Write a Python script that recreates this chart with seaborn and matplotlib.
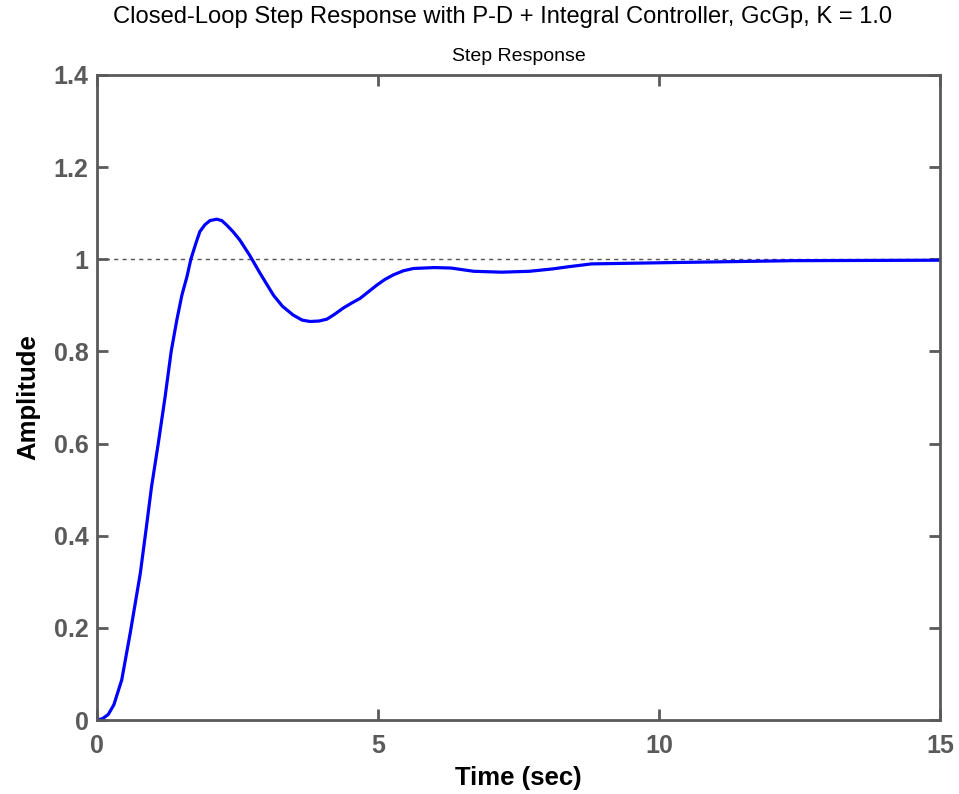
import matplotlib
matplotlib.use("Agg")
import matplotlib.pyplot as plt
import seaborn as sns
import pandas as pd
from matplotlib.ticker import FormatStrFormatter

time_sec = [0.0, 0.10, 0.20, 0.30, 0.44, 0.59, 0.77, 0.88, 0.97, 1.09, 1.21, 1.32, 1.42,
            1.51, 1.60, 1.67, 1.76, 1.83, 1.92, 2.01, 2.13, 2.22, 2.31, 2.42, 2.54,
            2.72, 2.90, 3.14, 3.30, 3.49, 3.65, 3.79, 3.95, 4.09, 4.22, 4.38, 4.53,
            4.68, 4.98, 5.12, 5.27, 5.45, 5.63, 6.00, 6.30, 6.70, 7.20, 7.70, 8.10,
            8.40, 8.80, 10.3, 12.4, 15.0]
amplitude = [0.0, 0.003, 0.012, 0.033, 0.087, 0.188, 0.318, 0.420, 0.506, 0.600, 0.700,
             0.800, 0.868, 0.922, 0.962, 1.000, 1.035, 1.060, 1.075, 1.084, 1.087,
             1.084, 1.074, 1.060, 1.042, 1.008, 0.970, 0.922, 0.898, 0.879, 0.868,
             0.865, 0.866, 0.870, 0.880, 0.894, 0.905, 0.915, 0.944, 0.956, 0.966,
             0.975, 0.980, 0.982, 0.981, 0.974, 0.972, 0.974, 0.979, 0.984, 0.990,
             0.993, 0.997, 0.998]
x_ticks = [0, 5, 10, 15]
y_ticks = [0, 0.2, 0.4, 0.6, 0.8, 1.0, 1.2, 1.4]
steady_state = 1.0

df = pd.DataFrame({"t": time_sec, "y": amplitude})

sns.set_style("white")
plt.rcParams["font.family"] = ["Liberation Sans", "DejaVu Sans"]

fig = plt.figure(figsize=(9.59, 7.94), dpi=100)
ax = fig.add_axes([97/959, 1-720/794, (940-97)/959, (720-75)/794])

sns.lineplot(data=df, x="t", y="y", ax=ax, color="#0000ff", linewidth=2.3)
ax.axhline(steady_state, color="#555555", linestyle=(0, (3, 3)), linewidth=1.0, zorder=1)

ax.set_xlim(0, 15)
ax.set_ylim(0, 1.4)
ax.set_xticks(x_ticks)
ax.set_yticks(y_ticks)
ax.yaxis.set_major_formatter(FormatStrFormatter("%g"))
ax.xaxis.set_major_formatter(FormatStrFormatter("%g"))

grey = "#5a5a5a"
for s in ax.spines.values():
    s.set_visible(True)
    s.set_color(grey)
    s.set_linewidth(2.0)
ax.tick_params(direction="in", length=8, width=2, colors=grey,
               top=True, right=True, bottom=True, left=True, labelsize=18)
ax.tick_params(axis="x", pad=10)
ax.tick_params(axis="y", pad=6)
for lab in ax.get_xticklabels() + ax.get_yticklabels():
    lab.set_fontweight("bold")
    lab.set_color(grey)

ax.set_xlabel("Time (sec)", fontsize=18.5, fontweight="bold", color="black", labelpad=6)
ax.set_ylabel("Amplitude", fontsize=18.5, fontweight="bold", color="black", labelpad=10)
ax.set_title("Step Response", fontsize=14, color="black", pad=10)
fig.text(0.524, 0.993, "Closed-Loop Step Response with P-D + Integral Controller, GcGp, K = 1.0",
         ha="center", va="top", fontsize=17.1, color="black")

fig.savefig("out.png", dpi=100)
